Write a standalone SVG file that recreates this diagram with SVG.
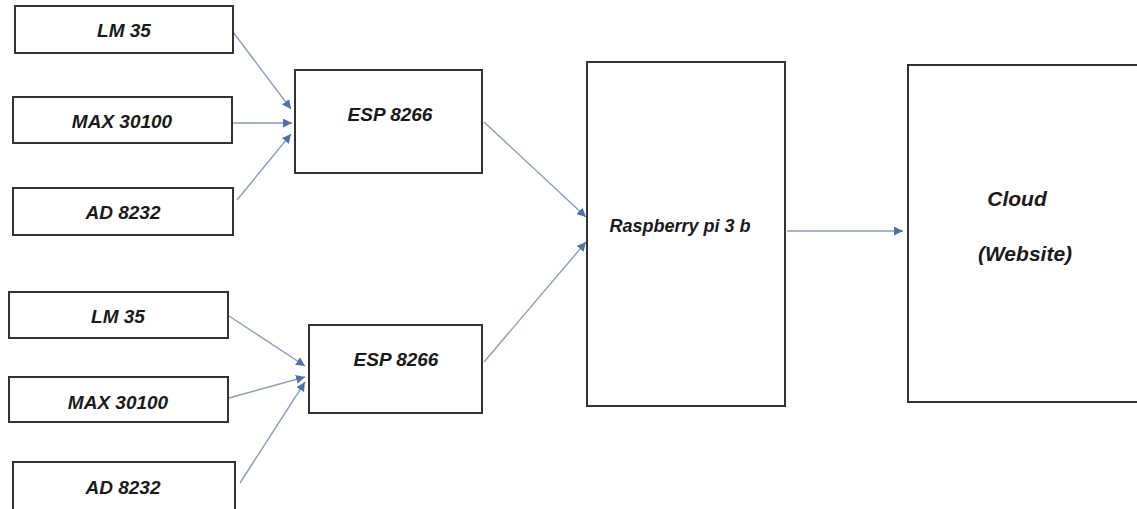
<svg xmlns="http://www.w3.org/2000/svg" width="1137" height="509" viewBox="0 0 1137 509">
<defs>
<style>
.box{fill:#fff;stroke:#333;stroke-width:2}
.lbl{font-family:"Liberation Sans",Arial,sans-serif;font-weight:bold;font-style:italic;font-size:19px;fill:#1a1a1a;text-anchor:middle;dominant-baseline:central}
.mid{font-size:18px}
.big{font-size:21px}
.conn{fill:none;stroke:#8a9dba;stroke-width:1.4}
</style>
<marker id="arr" viewBox="0 0 10 10" refX="10" refY="5" markerWidth="9" markerHeight="9" markerUnits="userSpaceOnUse" orient="auto">
<path d="M0,0 L10,5 L0,10 Z" fill="#4f6fae"/>
</marker>
</defs>
<rect width="1137" height="509" fill="#fff"/>
<g id="connectors">
<line class="conn" x1="233" y1="32" x2="291" y2="109" marker-end="url(#arr)"/>
<line class="conn" x1="232" y1="123" x2="292" y2="123" marker-end="url(#arr)"/>
<line class="conn" x1="237" y1="200" x2="291" y2="134" marker-end="url(#arr)"/>
<line class="conn" x1="229" y1="316" x2="305" y2="366" marker-end="url(#arr)"/>
<line class="conn" x1="229" y1="398" x2="305" y2="377" marker-end="url(#arr)"/>
<line class="conn" x1="240" y1="483" x2="305" y2="382" marker-end="url(#arr)"/>
<line class="conn" x1="484" y1="122" x2="586" y2="217" marker-end="url(#arr)"/>
<line class="conn" x1="484" y1="362" x2="586" y2="242" marker-end="url(#arr)"/>
<line class="conn" x1="787" y1="231" x2="903" y2="231" marker-end="url(#arr)"/>
</g>
<g id="lm35-a"><rect class="box" x="15" y="6" width="218" height="47"/><text class="lbl" x="124" y="30">LM 35</text></g>
<g id="max30100-a"><rect class="box" x="13" y="97" width="219" height="46"/><text class="lbl" x="122" y="121">MAX 30100</text></g>
<g id="ad8232-a"><rect class="box" x="13" y="188" width="220" height="47"/><text class="lbl" x="123" y="212">AD 8232</text></g>
<g id="lm35-b"><rect class="box" x="9" y="292" width="219" height="46"/><text class="lbl" x="118" y="316">LM 35</text></g>
<g id="max30100-b"><rect class="box" x="9" y="377" width="219" height="45"/><text class="lbl" x="118" y="402">MAX 30100</text></g>
<g id="ad8232-b"><rect class="box" x="13" y="462" width="222" height="60"/><text class="lbl" x="123" y="487">AD 8232</text></g>
<g id="esp-a"><rect class="box" x="295" y="70" width="187" height="103"/><text class="lbl" x="390" y="114">ESP 8266</text></g>
<g id="esp-b"><rect class="box" x="309" y="325" width="173" height="88"/><text class="lbl" x="396" y="359">ESP 8266</text></g>
<g id="raspberry"><rect class="box" x="587" y="62" width="198" height="344"/><text class="lbl mid" x="680" y="226">Raspberry pi 3 b</text></g>
<g id="cloud"><rect class="box" x="908" y="65" width="240" height="337"/><text class="lbl big" x="1017" y="198">Cloud</text><text class="lbl big" x="1025" y="253">(Website)</text></g>
</svg>
